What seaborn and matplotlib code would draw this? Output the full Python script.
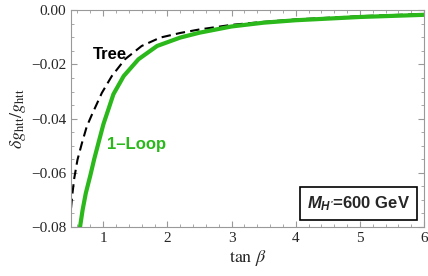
import numpy as np
import pandas as pd
import matplotlib
matplotlib.use("Agg")
import matplotlib.pyplot as plt
import seaborn as sns
from matplotlib.ticker import MultipleLocator

# values
tanb_tree = [0.5, 0.52, 0.55, 0.60, 0.67, 0.745, 0.82, 0.98, 1.135, 1.34, 1.60, 1.89, 2.2, 2.5,
             3.0, 3.5, 4.0, 5.0, 6.0]
dg_tree = [-0.0730, -0.0680, -0.0620, -0.0552, -0.0490, -0.0429, -0.0388, -0.0305, -0.0243,
           -0.0181, -0.0132, -0.0101, -0.0084, -0.0071, -0.0054, -0.0043, -0.0034, -0.0022, -0.0014]

tanb_loop = [0.64, 0.68, 0.73, 0.80, 0.86, 0.94, 1.005, 1.09, 1.16, 1.32, 1.55, 1.84, 2.2, 2.5,
             3.0, 3.5, 4.0, 5.0, 6.0]
dg_loop = [-0.0800, -0.0737, -0.0675, -0.0610, -0.0550, -0.0478, -0.0420, -0.0360, -0.0310,
           -0.0243, -0.0181, -0.0132, -0.0101, -0.0083, -0.0060, -0.0046, -0.0037, -0.0025, -0.0017]

green = "#2ab81a"

sns.set_style("ticks")
plt.rcParams['font.family'] = ['Liberation Serif', 'DejaVu Serif']
plt.rcParams['mathtext.fontset'] = 'stix'
plt.rcParams['mathtext.it'] = 'Liberation Sans:bold:italic'
plt.rcParams['mathtext.rm'] = 'Liberation Sans:bold'

fig = plt.figure(figsize=(4.28, 2.76), dpi=100)
ax = fig.add_axes([0.166, 0.1775, 0.825, 0.7855])

tree = pd.DataFrame({"tanb": tanb_tree, "dg": dg_tree})
loop = pd.DataFrame({"tanb": tanb_loop, "dg": dg_loop})
sns.lineplot(data=tree, x="tanb", y="dg", ax=ax, color="black", lw=1.5,
             linestyle=(0, (4.5, 2.5)))
sns.lineplot(data=loop, x="tanb", y="dg", ax=ax, color=green, lw=3.0)

ax.set_xlim(0.5, 6)
ax.set_ylim(-0.08, 0)
ax.xaxis.set_major_locator(MultipleLocator(1))
ax.xaxis.set_minor_locator(MultipleLocator(0.2))
ax.yaxis.set_major_locator(MultipleLocator(0.02))
ax.yaxis.set_minor_locator(MultipleLocator(0.005))
ax.yaxis.set_major_formatter(plt.FuncFormatter(lambda v, p: ("%.2f" % v).replace("-", "\u2212")))
ax.tick_params(which="both", direction="in", top=True, right=True, color="#999999")
ax.tick_params(which="major", length=4, labelsize=11, labeltop=False, labelright=False)
ax.tick_params(which="minor", length=2.5)
for s in ax.spines.values():
    s.set_color("#999999")
    s.set_linewidth(0.8)

ax.set_xlabel(r"$\tan\,\beta$", fontsize=13, labelpad=2)
ax.set_ylabel(r"$\delta g_{\rm htt}/g_{\rm htt}$", fontsize=13, labelpad=2)

ax.text(1.1, -0.0163, "Tree", family="Liberation Sans", weight="bold", fontsize=12,
        color="black", ha="center", va="center")
ax.text(1.52, -0.0497, "1\u2013Loop", family="Liberation Sans", weight="bold", fontsize=12,
        color=green, ha="center", va="center")
ax.text(4.97, -0.0714, r"$M_{H'}$=600 GeV", family="Liberation Sans", weight="bold",
        fontsize=12, ha="center", va="center", math_fontfamily="custom",
        bbox=dict(boxstyle="square,pad=0.42", fc="white", ec="black", lw=1.2))

fig.savefig("out.png", dpi=100)
